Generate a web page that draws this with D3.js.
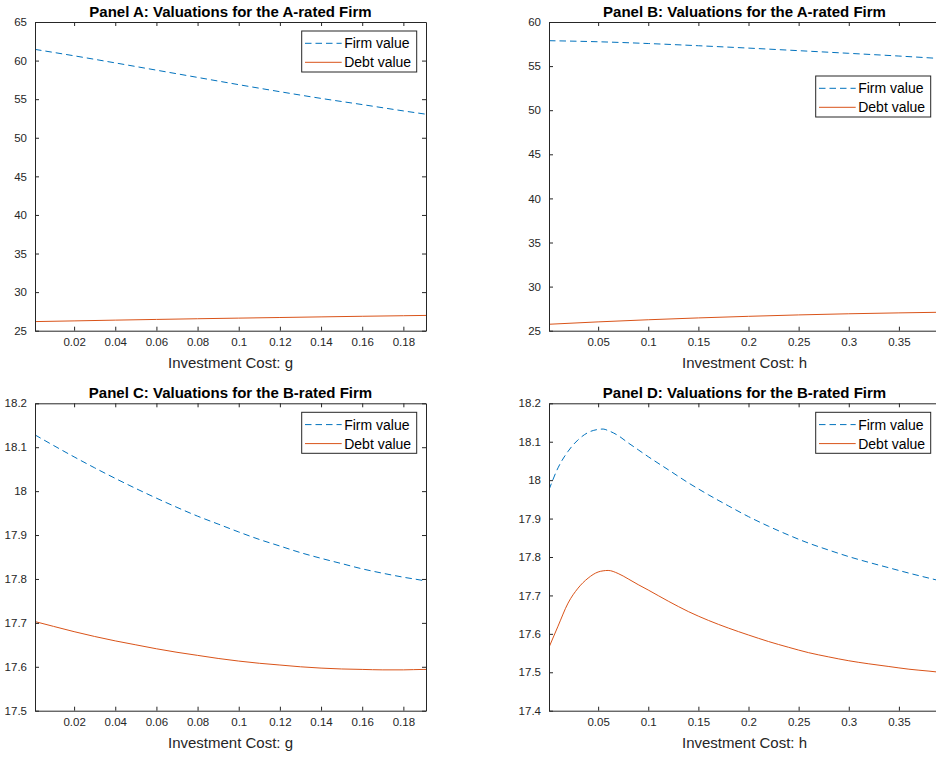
<!DOCTYPE html>
<html>
<head>
<meta charset="utf-8">
<script src="https://cdn.jsdelivr.net/npm/d3@7/dist/d3.min.js"></script>
<style>
  html, body { margin: 0; padding: 0; background: #fff; }
  svg { display: block; font-family: "Liberation Sans", Arial, Helvetica, sans-serif; }
  .tick-label { font-size: 11.5px; fill: #262626; }
  .axis-label { font-size: 15px; fill: #262626; }
  .title { font-size: 15px; font-weight: bold; fill: #000; }
  .legend-text { font-size: 14px; fill: #000; }
</style>
</head>
<body>
<svg id="chart" width="936" height="757"></svg>
<script>
'use strict';

// Investment cost grids
var gCost = [0.001, 0.02, 0.04, 0.06, 0.08, 0.10, 0.12, 0.14, 0.16, 0.18, 0.191];
var gCostFine = [0.001, 0.01, 0.02, 0.03, 0.04, 0.05, 0.06, 0.07, 0.08, 0.09, 0.10,
  0.11, 0.12, 0.13, 0.14, 0.15, 0.16, 0.17, 0.18, 0.19, 0.191];
var hCost = [0.001, 0.05, 0.10, 0.15, 0.20, 0.25, 0.30, 0.35, 0.391];
var hCostFine = [0.001, 0.01, 0.02, 0.03, 0.04, 0.05, 0.055, 0.06, 0.07, 0.08, 0.09, 0.10,
  0.12, 0.14, 0.16, 0.18, 0.20, 0.22, 0.24, 0.26, 0.28, 0.30, 0.32, 0.34, 0.36, 0.38, 0.391];

// Panel A: A-rated firm vs g
var firmA = [61.45, 60.62, 59.70, 58.76, 57.82, 56.88, 55.97, 55.10, 54.30, 53.48, 53.05];
var debtA = [26.18, 26.27, 26.37, 26.46, 26.55, 26.63, 26.71, 26.79, 26.87, 26.94, 26.98];

// Panel B: A-rated firm vs h
var firmB = [57.88, 57.76, 57.56, 57.31, 57.04, 56.75, 56.45, 56.14, 55.86];
var debtB = [25.73, 26.00, 26.24, 26.45, 26.63, 26.79, 26.92, 27.02, 27.09];

// Panel C: B-rated firm vs g
var firmC = [18.128, 18.104, 18.078, 18.053, 18.029, 18.006, 17.984, 17.963, 17.943, 17.925, 17.907,
  17.890, 17.875, 17.860, 17.847, 17.835, 17.823, 17.813, 17.804, 17.796, 17.795];
var debtC = [17.703, 17.692, 17.680, 17.669, 17.659, 17.650, 17.641, 17.633, 17.626, 17.619, 17.613,
  17.608, 17.604, 17.600, 17.597, 17.595, 17.594, 17.593, 17.593, 17.594, 17.594];

// Panel D: B-rated firm vs h
var firmD = [17.975, 18.032, 18.075, 18.105, 18.124, 18.132, 18.133, 18.129, 18.116, 18.097, 18.079, 18.061,
  18.027, 17.993, 17.962, 17.933, 17.905, 17.880, 17.857, 17.836, 17.818, 17.801, 17.786, 17.772,
  17.758, 17.745, 17.738];
var debtD = [17.565, 17.620, 17.680, 17.719, 17.745, 17.761, 17.764, 17.765, 17.757, 17.743, 17.728, 17.714,
  17.685, 17.658, 17.635, 17.615, 17.597, 17.580, 17.565, 17.551, 17.540, 17.530, 17.522, 17.515,
  17.508, 17.503, 17.500];

// Tick values
var gTicks = [0.02, 0.04, 0.06, 0.08, 0.1, 0.12, 0.14, 0.16, 0.18];
var hTicks = [0.05, 0.1, 0.15, 0.2, 0.25, 0.3, 0.35];
var yTicksA = [25, 30, 35, 40, 45, 50, 55, 60, 65];
var yTicksB = [25, 30, 35, 40, 45, 50, 55, 60];
var yTicksC = [17.5, 17.6, 17.7, 17.8, 17.9, 18, 18.1, 18.2];
var yTicksD = [17.4, 17.5, 17.6, 17.7, 17.8, 17.9, 18, 18.1, 18.2];

var legendNames = ["Firm value", "Debt value"];
var BLUE = "#0072BD";
var ORANGE = "#D95319";
var AXIS = "#262626";

var svg = d3.select("#chart");

function fmt(v) {
  return String(+v.toFixed(3));
}

function zip(xs, ys) {
  return xs.map(function(x, i) { return { x: x, y: ys[i] }; });
}

function drawPanel(opt) {
  var w = 391, h = opt.h;
  var g = svg.append("g").attr("transform", "translate(" + opt.left + "," + opt.top + ")");

  var x = d3.scaleLinear().domain(opt.xDomain).range([0, w]);
  var y = d3.scaleLinear().domain(opt.yDomain).range([h, 0]);

  var line = d3.line()
    .x(function(d) { return x(d.x); })
    .y(function(d) { return y(d.y); })
    .curve(d3.curveMonotoneX);

  var clipId = "clip-" + opt.id;
  g.append("clipPath").attr("id", clipId)
    .append("rect").attr("width", w).attr("height", h);

  // lines
  g.append("path")
    .datum(zip(opt.xs, opt.debt))
    .attr("clip-path", "url(#" + clipId + ")")
    .attr("fill", "none")
    .attr("stroke", ORANGE)
    .attr("stroke-width", 1)
    .attr("d", line);
  g.append("path")
    .datum(zip(opt.xs, opt.firm))
    .attr("clip-path", "url(#" + clipId + ")")
    .attr("fill", "none")
    .attr("stroke", BLUE)
    .attr("stroke-width", 1)
    .attr("stroke-dasharray", "6.5,4")
    .attr("d", line);

  // axes, ticks inward on all sides
  var tl = 4;
  var bottom = d3.axisBottom(x).tickValues(opt.xTicks).tickSizeInner(-tl).tickSizeOuter(0).tickPadding(8).tickFormat(fmt);
  var top = d3.axisTop(x).tickValues(opt.xTicks).tickSizeInner(-tl).tickSizeOuter(0).tickFormat("");
  var left = d3.axisLeft(y).tickValues(opt.yTicks).tickSizeInner(-tl).tickSizeOuter(0).tickPadding(8).tickFormat(fmt);
  var right = d3.axisRight(y).tickValues(opt.yTicks).tickSizeInner(-tl).tickSizeOuter(0).tickFormat("");

  var axes = [
    g.append("g").attr("transform", "translate(0," + h + ")").call(bottom),
    g.append("g").call(top),
    g.append("g").call(left),
    g.append("g").attr("transform", "translate(" + w + ",0)").call(right)
  ];
  axes.forEach(function(a) {
    a.select(".domain").attr("stroke", AXIS).attr("stroke-width", 1);
    a.selectAll(".tick line").attr("stroke", AXIS).attr("stroke-width", 1);
    a.selectAll(".tick text").attr("class", "tick-label").attr("fill", null).attr("font-size", null).attr("font-family", null);
  });
  axes[0].selectAll(".tick text").attr("dy", "0.62em");

  // title and x label
  g.append("text").attr("class", "title")
    .attr("x", w / 2).attr("y", -5.5)
    .attr("text-anchor", "middle")
    .text(opt.title);
  g.append("text").attr("class", "axis-label")
    .attr("x", w / 2).attr("y", h + 37.5)
    .attr("text-anchor", "middle")
    .text(opt.xLabel);

  // legend
  var lw = 115, lh = 41;
  var lg = g.append("g").attr("transform", "translate(" + (w - 9.3 - lw) + "," + opt.legendTop + ")");
  lg.append("rect").attr("width", lw).attr("height", lh)
    .attr("fill", "#fff").attr("stroke", AXIS).attr("stroke-width", 1);
  var rows = [
    { name: legendNames[0], color: BLUE, dash: "6.5,4" },
    { name: legendNames[1], color: ORANGE, dash: null }
  ];
  rows.forEach(function(r, i) {
    var cy = 12.3 + i * 19;
    lg.append("line")
      .attr("x1", 3.3).attr("x2", 40).attr("y1", cy).attr("y2", cy)
      .attr("stroke", r.color).attr("stroke-width", 1)
      .attr("stroke-dasharray", r.dash);
    lg.append("text").attr("class", "legend-text")
      .attr("x", 42.5).attr("y", cy).attr("dy", "0.36em")
      .text(r.name);
  });
}

drawPanel({
  id: "a", left: 35, top: 22, h: 308.7,
  xDomain: [0.001, 0.191], yDomain: [25, 65],
  xs: gCost, firm: firmA, debt: debtA,
  xTicks: gTicks, yTicks: yTicksA,
  title: "Panel A: Valuations for the A-rated Firm",
  xLabel: "Investment Cost: g", legendTop: 9
});

drawPanel({
  id: "b", left: 549, top: 22, h: 308.7,
  xDomain: [0.001, 0.391], yDomain: [25, 60],
  xs: hCost, firm: firmB, debt: debtB,
  xTicks: hTicks, yTicks: yTicksB,
  title: "Panel B: Valuations for the A-rated Firm",
  xLabel: "Investment Cost: h", legendTop: 54
});

drawPanel({
  id: "c", left: 35, top: 403.3, h: 307.4,
  xDomain: [0.001, 0.191], yDomain: [17.5, 18.2],
  xs: gCostFine, firm: firmC, debt: debtC,
  xTicks: gTicks, yTicks: yTicksC,
  title: "Panel C: Valuations for the B-rated Firm",
  xLabel: "Investment Cost: g", legendTop: 9
});

drawPanel({
  id: "d", left: 549, top: 403.3, h: 307.4,
  xDomain: [0.001, 0.391], yDomain: [17.4, 18.2],
  xs: hCostFine, firm: firmD, debt: debtD,
  xTicks: hTicks, yTicks: yTicksD,
  title: "Panel D: Valuations for the B-rated Firm",
  xLabel: "Investment Cost: h", legendTop: 9
});
</script>
</body>
</html>
